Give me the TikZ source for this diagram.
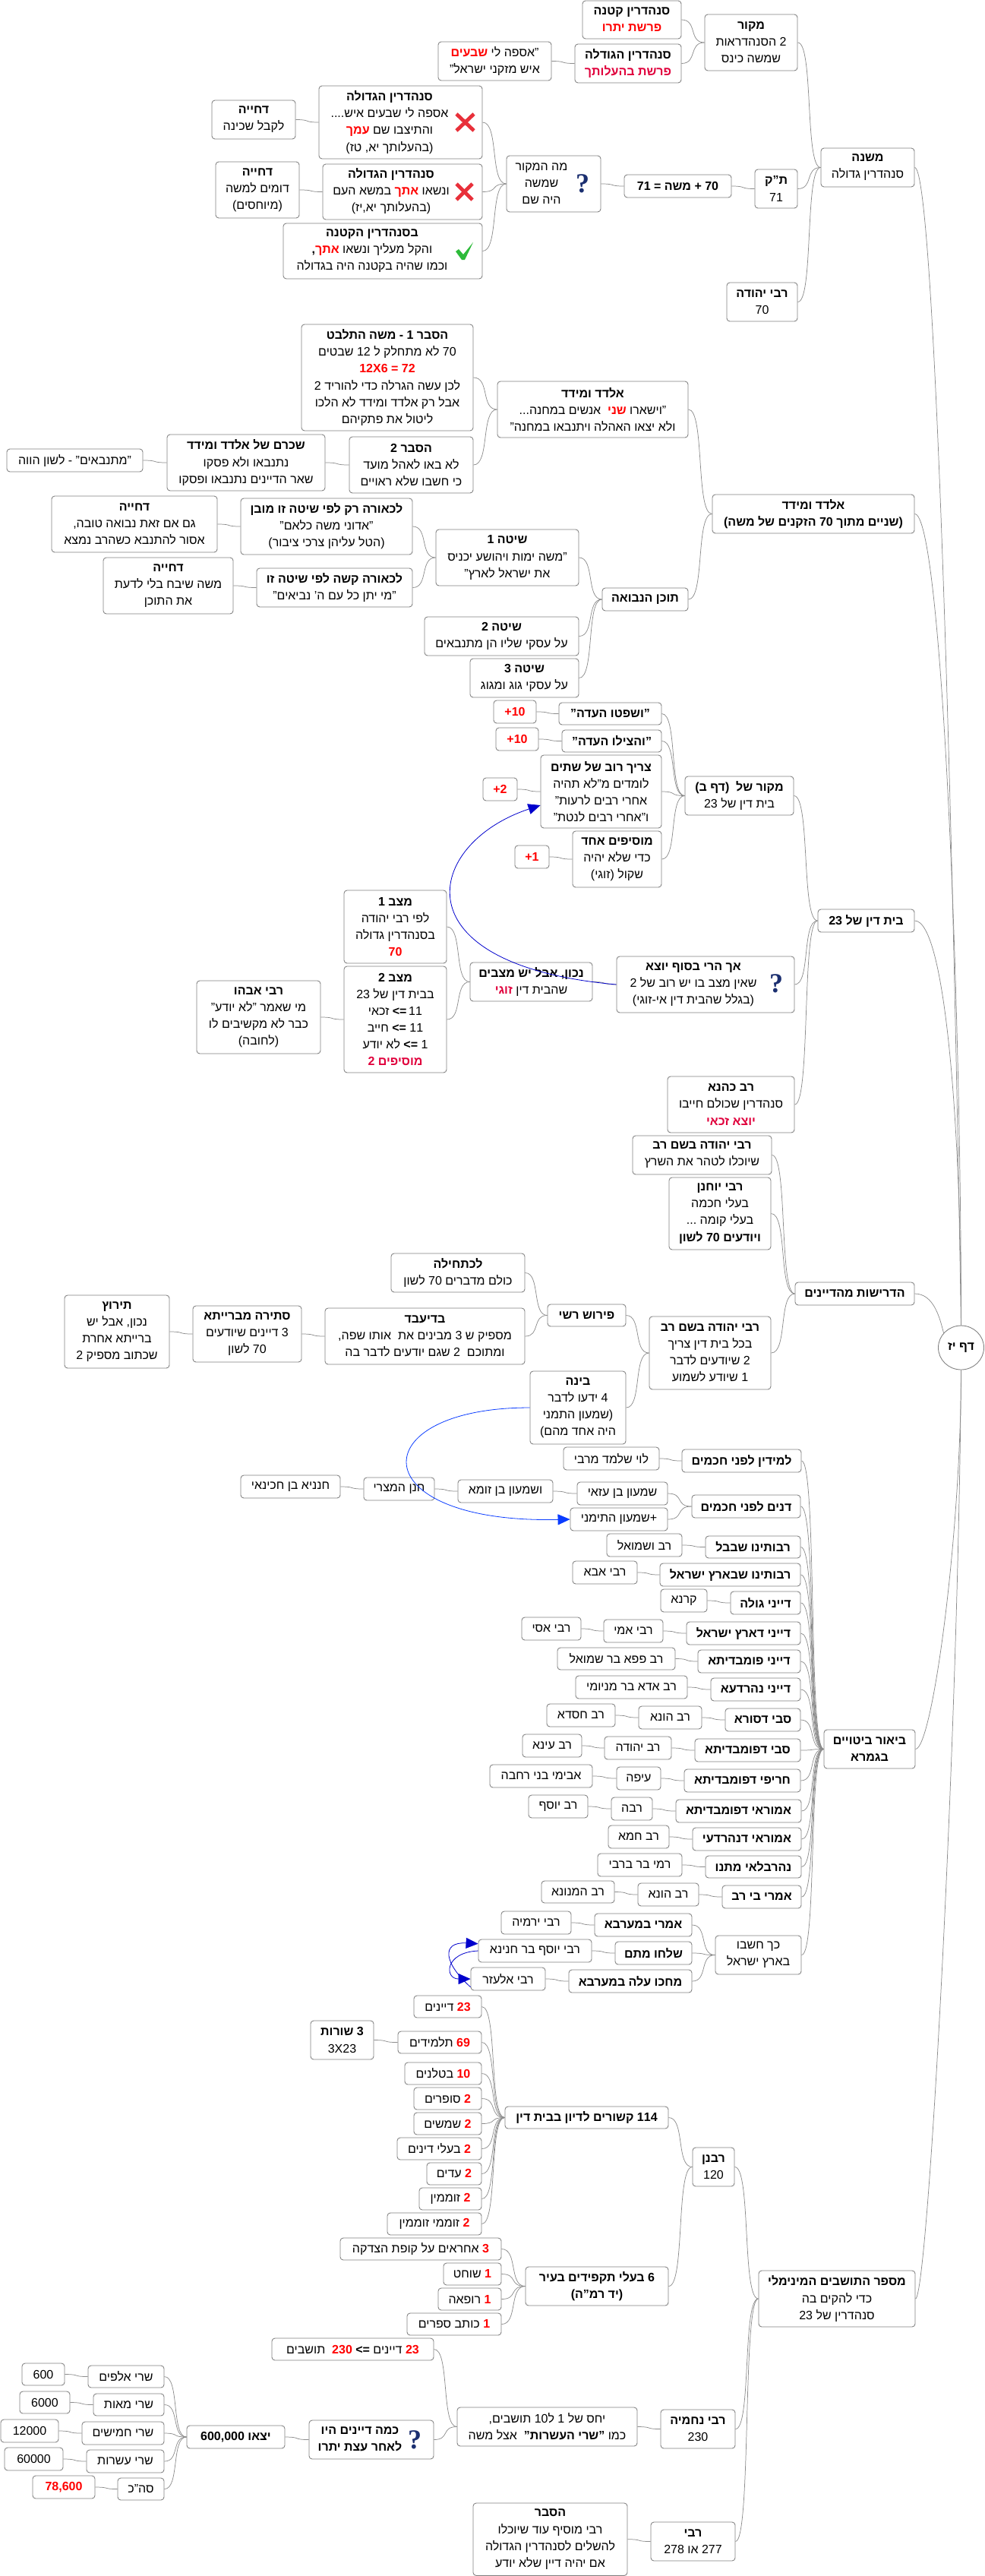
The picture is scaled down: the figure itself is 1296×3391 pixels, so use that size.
\documentclass[tikz,border=0pt]{standalone}
\usepackage{fontspec}
\setmainfont[Script=Hebrew]{Liberation Sans}
\newfontfamily\qfont{Liberation Serif}
\newfontfamily\latf{Liberation Sans}
\TeXXeTstate=1
\usetikzlibrary{calc,arrows.meta,shapes.geometric}
\definecolor{boxc}{HTML}{7F7F7F}
\definecolor{linec}{HTML}{8C8C8C}
\definecolor{crim}{HTML}{E0003C}
\definecolor{blueA}{HTML}{0000CC}
\definecolor{blueB}{HTML}{0A3CFF}
\definecolor{navyq}{HTML}{1B2F70}
\definecolor{xred}{HTML}{E8303A}
\definecolor{okgreen}{HTML}{2DBB3A}
\tikzset{
  bx/.style={draw=boxc,fill=white,rounded corners=3pt,line width=.65pt,inner sep=0pt,align=center,font=\fontsize{12}{16.6}\selectfont},
  tx/.style={inner sep=0pt,align=center,font=\fontsize{12}{16.6}\selectfont},
  cnl/.style={draw=linec,line width=.55pt},
  blA/.style={draw=blueA,line width=.6pt,-{Triangle[length=12pt,width=10.5pt,fill=blueA]}},
  blB/.style={draw=blueB,line width=.6pt,-{Triangle[length=12pt,width=10.5pt,fill=blueB]}},
  qm/.style={inner sep=0pt,text=navyq,font=\qfont\bfseries\fontsize{27}{27}\selectfont}
}
\newcommand\R[1]{\beginR #1\endR}
\newcommand\Bl[1]{\R{\textbf{#1}}}
\newcommand\RB[1]{\textcolor{red}{\beginR\textbf{#1}\endR}}
\newcommand\CB[1]{\textcolor{crim}{\beginR\textbf{#1}\endR}}
\newcommand\LB[1]{\textcolor{red}{\latf\textbf{#1}}}
\newcommand\bx[6]{\pgfmathsetmacro\bxw{(#4-#2)*.75}\pgfmathsetmacro\bxh{(#5-#3)*.75}\node[bx,minimum width=\bxw pt,minimum height=\bxh pt] (#1) at ({(#2+#4)/2},{(#3+#5)/2}) {#6};}
\newcommand\cn[2]{\draw[cnl] let \p1=(#1.east),\p2=(#2.west),\n1={(\x2-\x1)*.7} in (\p1) .. controls (\x1+\n1,\y1) and (\x2-\n1,\y2) .. (\p2);}
\newcommand\xmk[4]{\draw[xred,line width=3.6pt] (#1,#2) -- (#3,#4) (#3,#2) -- (#1,#4);}
\begin{document}
\begin{tikzpicture}[x=.75pt,y=-.75pt]
\useasboundingbox (0,0) rectangle (1296,3391);
% ---- mishna
\bx{sk}{767}{1}{897}{51}{\Bl{סנהדרין קטנה}\\\RB{פרשת יתרו}}
\bx{sg}{757}{58}{897}{109}{\Bl{סנהדרין הגודלה}\\\CB{פרשת בהעלותך}}
\bx{mk}{928}{19}{1050}{93}{\Bl{מקור}\\\R{2 הסנהדראות}\\\R{שמשה כינס}}
\bx{asf}{577}{55}{726}{106}{\RB{שבעים} \R{"אספה לי}\\\R{איש מזקני ישראל"}}
\bx{gA}{420}{113}{635}{209}{}
\node[tx] (gAt) at (513,161) {\Bl{סנהדרין הגדולה}\\\R{אספה לי שבעים איש....}\\\RB{עמך} \R{והתיצבו שם}\\\R{(בהעלותך יא, טז)}};
\bx{dA}{279}{132}{389}{183}{\Bl{דחייה}\\\R{לקבל שכינה}}
\bx{gB}{425}{216}{635}{289}{}
\node[tx] (gBt) at (515,252) {\Bl{סנהדרין הגדולה}\\\R{במשא העם} \RB{אתך} \R{ונשאו}\\\R{(בהעלותך יא,יז)}};
\bx{dB}{284}{213}{394}{287}{\Bl{דחייה}\\\R{דומים למשה}\\\R{(מיוחסים)}}
\bx{gC}{373}{294}{635}{367}{}
\node[tx] (gCt) at (490,330) {\Bl{בסנהדרין הקטנה}\\\textbf{,}\RB{אתך} \R{והקל מעליך ונשאו}\\\R{וכמו שהיה בקטנה היה בגדולה}};
\bx{qA}{667}{205}{791}{279}{}
\node[tx] (qAt) at (713,242) {\R{מה המקור}\\\R{שמשה}\\\R{היה שם}};
\bx{eq}{822}{230}{963}{260}{\Bl{70 + משה = 71}}
\bx{tk}{994}{223}{1050}{274}{\Bl{ת"ק}\\\R{71}}
\bx{mish}{1081}{195}{1204}{246}{\Bl{משנה}\\\R{סנהדרין גדולה}}
\bx{ry}{957}{372}{1050}{423}{\Bl{רבי יהודה}\\\R{70}}
% ---- eldad
\bx{hA}{397}{427}{623}{567}{\Bl{הסבר 1 - משה התלבט}\\\R{70 לא מתחלק ל 12 שבטים}\\\LB{12X6 = 72}\\\R{לכן עשה הגרלה כדי להוריד 2}\\\R{אבל רק אלדד ומידד לא הלכו}\\\R{ליטול את פתקיהם}}
\bx{ald}{655}{502}{906}{576}{\Bl{אלדד ומידד}\\\R{אנשים במחנה...}\ \ \RB{שני} \R{"וישארו}\\\R{ולא יצאו האהלה ויתנבאו במחנה"}}
\bx{hB}{460}{575}{623}{649}{\Bl{הסבר 2}\\\R{לא באו לאהל מועד}\\\R{כי חשבו שלא ראויים}}
\bx{shk}{220}{572}{428}{646}{\Bl{שכרם של אלדד ומידד}\\\R{נתנבאו ולא פסקו}\\\R{שאר הדיינים נתנבאו ופסקו}}
\bx{mit}{9}{591}{188}{621}{\R{"מתנבאים" - לשון הווה}}
\bx{aldm}{938}{651}{1204}{702}{\Bl{אלדד ומידד}\\\Bl{(שניים מתוך 70 הזקנים של משה)}}
\bx{lkA}{317}{656}{543}{730}{\Bl{לכאורה רק לפי שיטה זו מובן}\\\R{"אדוני משה כלאם"}\\\R{(הטל עליהן צרכי ציבור)}}
\bx{dC}{68}{653}{286}{727}{\Bl{דחייה}\\\R{גם אם זאת נבואה טובה,}\\\R{אסור להתנבא כשהרב נמצא}}
\bx{shA}{574}{697}{762}{771}{\Bl{שיטה 1}\\\R{"משה ימות ויהושע יכניס}\\\R{את ישראל לארץ"}}
\bx{dD}{136}{734}{307}{808}{\Bl{דחייה}\\\R{משה שיבח בלי לדעת}\\\R{את התוכן}}
\bx{lkB}{338}{748}{543}{799}{\Bl{לכאורה קשה לפי שיטה זו}\\\R{"מי יתן כל עם ה' נביאים"}}
\bx{tn}{793}{774}{906}{804}{\Bl{תוכן הנבואה}}
\bx{shB}{559}{812}{762}{863}{\Bl{שיטה 2}\\\R{על עסקי שליו הן מתנבאים}}
\bx{shC}{619}{867}{762}{918}{\Bl{שיטה 3}\\\R{על עסקי גוג ומגוג}}
% ---- 23
\bx{pA}{650}{922}{706}{952}{\LB{+10}}
\bx{vA}{736}{925}{871}{954}{\Bl{"ושפטו העדה"}}
\bx{pB}{653}{958}{709}{988}{\LB{+10}}
\bx{vB}{740}{961}{871}{990}{\Bl{"והצילו העדה"}}
\bx{rv}{712}{994}{871}{1090}{\Bl{צריך רוב של שתים}\\\R{לומדים מ"לא תהיה}\\\R{אחרי רבים לרעות"}\\\R{ו"אחרי רבים לנטת"}}
\bx{pC}{636}{1024}{681}{1054}{\LB{+2}}
\bx{mkB}{902}{1022}{1045}{1073}{\Bl{מקור של\ \ (דף ב)}\\\R{בית דין של 23}}
\bx{mos}{754}{1094}{871}{1168}{\Bl{מוסיפים אחד}\\\R{כדי שלא יהיה}\\\R{שקול (זוגי)}}
\bx{pD}{678}{1113}{723}{1143}{\LB{+1}}
\bx{bdt}{1077}{1197}{1204}{1227}{\Bl{בית דין של 23}}
\bx{mA}{453}{1172}{588}{1268}{\Bl{מצב 1}\\\R{לפי רבי יהודה}\\\R{בסנהדרין גדולה}\\\RB{70}}
\bx{nk}{619}{1267}{780}{1318}{\Bl{נכון, אבל יש מצבים}\\\CB{זוגי} \R{שהבית דין}}
\bx{ah}{812}{1259}{1046}{1333}{}
\node[tx] (aht) at (913,1296) {\Bl{אך הרי בסוף יוצא}\\\R{שאין מצב בו יש רוב של 2}\\\R{(בגלל שהבית דין אי-זוגי)}};
\bx{mB}{453}{1272}{588}{1412}{\Bl{מצב 2}\\\R{בבית דין של 23}\\\R{11\,\textbf{=>} זכאי}\\\R{11 \textbf{=>} חייב}\\\R{1 \textbf{=>} לא יודע}\\\CB{מוסיפים 2}}
\bx{abh}{259}{1291}{422}{1387}{\Bl{רבי אבהו}\\\R{מי שאמר "לא יודע"}\\\R{כבר לא מקשיבים לו}\\\R{(לחובה)}}
\bx{rk}{879}{1417}{1046}{1491}{\Bl{רב כהנא}\\\R{סנהדרין שכולם חייבו}\\\CB{יוצא זכאי}}
% ---- drishot
\bx{ryr}{833}{1495}{1016}{1546}{\Bl{רבי יהודה בשם רב}\\\R{שיוכלו לטהר את השרץ}}
\bx{ryo}{881}{1550}{1015}{1645}{\Bl{רבי יוחנן}\\\R{בעלי חכמה}\\\R{בעלי קומה ...}\\\Bl{ויודעים 70 לשון}}
\bx{lch}{515}{1650}{691}{1701}{\Bl{לכתחילה}\\\R{כולם מדברים 70 לשון}}
\bx{hd}{1047}{1688}{1204}{1718}{\Bl{הדרישות מהדיינים}}
\bx{pr}{721}{1717}{824}{1746}{\Bl{פירוש רשי}}
\bx{ti}{85}{1705}{223}{1801}{\Bl{תירוץ}\\\R{נכון, אבל יש}\\\R{ברייתא אחרת}\\\R{שכתוב מספיק 2}}
\bx{st}{254}{1719}{397}{1793}{\Bl{סתירה מברייתא}\\\R{3 דיינים שיודעים}\\\R{70 לשון}}
\bx{bd}{428}{1722}{691}{1796}{\Bl{בדיעבד}\\\R{מספיק ש 3 מבינים את\ \ אותו שפה,}\\\R{ומתוכם\ \ 2 שגם יודעים לדבר בה}}
\bx{ryb}{855}{1733}{1015}{1829}{\Bl{רבי יהודה בשם רב}\\\R{בכל בית דין צריך}\\\R{2 שיודעים לדבר}\\\R{1 שיודע לשמוע}}
\node[draw=boxc,fill=white,line width=.65pt,ellipse,inner sep=0pt,minimum width=45pt,minimum height=43.5pt,font=\fontsize{12}{16.6}\selectfont] (df) at (1265.5,1774) {\Bl{דף יז}};
\bx{bin}{698}{1805}{824}{1901}{\Bl{בינה}\\\R{4 ידעו לדבר}\\\R{(שמעון התמני}\\\R{היה אחד מהם)}}
% ---- biur
\bx{lv}{742}{1905}{868}{1935}{\R{לוי שלמד מרבי}}
\bx{lm}{898}{1908}{1055}{1938}{\Bl{למידין לפני חכמים}}
\bx{hn}{317}{1942}{448}{1972}{\R{חנניא בן חכינאי}}
\bx{hm}{479}{1945}{572}{1975}{\R{חנן המצרי}}
\bx{bz}{603}{1948}{728}{1978}{\R{ושמעון בן זומא}}
\bx{ba}{760}{1951}{879}{1981}{\R{שמעון בן עזאי}}
\bx{dn}{911}{1968}{1054}{1998}{\Bl{דנים לפני חכמים}}
\bx{tm}{751}{1985}{879}{2015}{\R{+שמעון התימני}}
\bx{rbA}{929}{2022}{1054}{2051}{\Bl{רבותינו שבבל}}
\bx{rs}{799}{2019}{898}{2049}{\R{רב ושמואל}}
\bx{ri}{869}{2058}{1054}{2088}{\Bl{רבותינו שבארץ ישראל}}
\bx{rab}{754}{2055}{839}{2085}{\R{רבי אבא}}
\bx{dg}{962}{2095}{1054}{2125}{\Bl{דייני גולה}}
\bx{kr}{870}{2092}{931}{2122}{\R{קרנא}}
\bx{dy}{904}{2135}{1054}{2165}{\Bl{דייני דארץ ישראל}}
\bx{am}{795}{2132}{873}{2162}{\R{רבי אמי}}
\bx{asi}{687}{2129}{765}{2159}{\R{רבי אסי}}
\bx{dp}{919}{2172}{1054}{2202}{\Bl{דייני פומבדיתא}}
\bx{rp}{734}{2169}{889}{2198}{\R{רב פפא בר שמואל}}
\bx{dnh}{936}{2209}{1054}{2239}{\Bl{דייני נהרדעא}}
\bx{rad}{758}{2206}{905}{2236}{\R{רב אדא בר מניומי}}
\bx{sd}{955}{2249}{1054}{2279}{\Bl{סבי דסורא}}
\bx{rh}{841}{2246}{924}{2276}{\R{רב הונא}}
\bx{rhs}{720}{2243}{810}{2273}{\R{רב חסדא}}
\bx{sb}{915}{2289}{1054}{2319}{\Bl{סבי דפומבדיתא}}
\bx{ryh}{796}{2286}{884}{2316}{\R{רב יהודה}}
\bx{rin}{688}{2283}{766}{2313}{\R{רב עינא}}
\bx{hr}{901}{2329}{1054}{2359}{\Bl{חריפי דפומבדיתא}}
\bx{ef}{812}{2326}{870}{2356}{\R{עיפה}}
\bx{abm}{645}{2323}{780}{2353}{\R{אבימי בני רחבה}}
\bx{biu}{1085}{2277}{1205}{2328}{\Bl{ביאור ביטויים}\\\Bl{בגמרא}}
\bx{amp}{890}{2369}{1055}{2399}{\Bl{אמוראי דפומבדיתא}}
\bx{rbh}{805}{2366}{859}{2396}{\R{רבה}}
\bx{ryf}{696}{2363}{774}{2393}{\R{רב יוסף}}
\bx{anh}{912}{2406}{1055}{2436}{\Bl{אמוראי דנהרדעי}}
\bx{rhm}{801}{2403}{881}{2433}{\R{רב חמא}}
\bx{nh}{929}{2443}{1055}{2472}{\Bl{נהרבלאי מתנו}}
\bx{rm}{787}{2440}{898}{2470}{\R{רמי בר ברבי}}
\bx{abr}{951}{2482}{1055}{2512}{\Bl{אמרי בי רב}}
\bx{rhB}{840}{2479}{920}{2509}{\R{רב הונא}}
\bx{rmn}{713}{2476}{809}{2505}{\R{רב המנונא}}
\bx{abm2}{783}{2519}{911}{2549}{\Bl{אמרי במערבא}}
\bx{ryr3}{660}{2516}{752}{2546}{\R{רבי ירמיה}}
\bx{kh}{942}{2548}{1055}{2599}{\R{כך חשבו}\\\R{בארץ ישראל}}
\bx{sm}{810}{2556}{911}{2586}{\Bl{שלחו מתם}}
\bx{ybh}{630}{2553}{779}{2583}{\R{רבי יוסף בר חנינא}}
\bx{mh}{749}{2593}{911}{2623}{\Bl{מחכו עלה במערבא}}
\bx{re}{620}{2590}{718}{2620}{\R{רבי אלעזר}}
% ---- minimal
\bx{da}{545}{2627}{634}{2656}{\R{דיינים} \RB{23}}
\bx{db}{524}{2674}{634}{2703}{\R{תלמידים} \RB{69}}
\bx{sr}{409}{2660}{492}{2711}{\Bl{3 שורות}\\{\latf 3X23}}
\bx{dc}{533}{2715}{634}{2744}{\R{בטלנים} \RB{10}}
\bx{dd}{545}{2748}{634}{2777}{\R{סופרים} \RB{2}}
\bx{de}{545}{2781}{634}{2810}{\R{שמשים} \RB{2}}
\bx{df2}{523}{2814}{634}{2843}{\R{בעלי דינים} \RB{2}}
\bx{dg2}{562}{2847}{634}{2876}{\R{עדים} \RB{2}}
\bx{dh}{552}{2880}{634}{2909}{\R{זוממין} \RB{2}}
\bx{di}{510}{2913}{634}{2942}{\R{זוממי זוממין} \RB{2}}
\bx{qt}{665}{2773}{880}{2802}{\Bl{114 קשורים לדיון בבית דין}}
\bx{rbn}{912}{2827}{967}{2878}{\Bl{רבנן}\\\R{120}}
\bx{ea}{448}{2946}{660}{2975}{\R{אחראים על קופת הצדקה} \RB{3}}
\bx{eb}{584}{2979}{660}{3008}{\R{שוחט} \RB{1}}
\bx{ec}{577}{3012}{660}{3041}{\R{רופאה} \RB{1}}
\bx{ed}{536}{3045}{660}{3074}{\R{כותב ספרים} \RB{1}}
\bx{bsix}{692}{2984}{880}{3035}{\Bl{6 בעלי תקפידים בעיר}\\\Bl{(יד רמ"ה)}}
\bx{mm}{999}{2989}{1205}{3063}{\Bl{מספר התושבים המינימלי}\\\R{כדי להקים בה}\\\R{סנהדרין של 23}}
\bx{dtt}{358}{3078}{571}{3107}{\R{תושבים}\ \ \RB{230} \Bl{=>} \R{דיינים} \RB{23}}
\bx{yh}{602}{3169}{839}{3220}{\R{יחס של 1 ל10 תושבים,}\\\R{כמו \textbf{"שרי העשרות"}\ \ אצל משה}}
\bx{rn}{870}{3172}{968}{3223}{\Bl{רבי נחמיה}\\\R{230}}
\bx{km}{407}{3186}{571}{3237}{}
\node[tx] (kmt) at (474,3211) {\Bl{כמה דיינים היו}\\\Bl{לאחר עצת יתרו}};
\bx{hsb}{623}{3295}{826}{3390.4}{\Bl{הסבר}\\\R{רבי מוסיף עוד שיוכלו}\\\R{להשלים לסנהדרין הגדולה}\\\R{אם יהיה דיין שלא יודע}}
\bx{rbi}{857}{3320}{968}{3371}{\Bl{רבי}\\\R{277 או 278}}
\bx{ya}{246}{3193}{375}{3223}{\Bl{יצאו 600,000}}
\bx{sa}{116}{3114}{216}{3143}{\R{שרי אלפים}}
\bx{na}{29}{3111}{85}{3140}{600}
\bx{sbb}{123}{3151}{216}{3180}{\R{שרי מאות}}
\bx{nb}{26}{3148}{92}{3177}{6000}
\bx{sc}{108}{3188}{216}{3218}{\R{שרי חמישים}}
\bx{nc}{1}{3185}{77}{3215}{12000}
\bx{sdd}{114}{3225}{216}{3255}{\R{שרי עשרות}}
\bx{nd}{6}{3222}{83}{3252}{60000}
\bx{se}{155}{3262}{216}{3291}{\R{סה"כ}}
\bx{ne}{43}{3259}{125}{3289}{\RB{78,600}}
% ---- icons
\xmk{601}{150}{624}{172}
\xmk{601}{242}{622}{263}
\fill[okgreen] (600,331) -- (604,328) -- (610,335) -- (623,319) -- (612,342) -- (608,342) -- cycle;
\node[qm] (qiA) at (767,242) {?};
\node[qm] (qiB) at (1022,1295) {?};
\node[qm] (qiC) at (546,3212) {?};
% ---- connectors
\cn{sk}{mk}\cn{sg}{mk}\cn{asf}{sg}\cn{mk}{mish}\cn{tk}{mish}\cn{ry}{mish}\cn{eq}{tk}\cn{qA}{eq}
\cn{gA}{qA}\cn{gB}{qA}\cn{gC}{qA}\cn{dA}{gA}\cn{dB}{gB}
\cn{hA}{ald}\cn{hB}{ald}\cn{shk}{hB}\cn{mit}{shk}\cn{ald}{aldm}\cn{tn}{aldm}
\cn{shA}{tn}\cn{shB}{tn}\cn{shC}{tn}\cn{lkA}{shA}\cn{lkB}{shA}\cn{dC}{lkA}\cn{dD}{lkB}
\cn{pA}{vA}\cn{pB}{vB}\cn{pC}{rv}\cn{pD}{mos}\cn{vA}{mkB}\cn{vB}{mkB}\cn{rv}{mkB}\cn{mos}{mkB}
\cn{mkB}{bdt}\cn{ah}{bdt}\cn{rk}{bdt}\cn{nk}{ah}\cn{mA}{nk}\cn{mB}{nk}\cn{abh}{mB}
\cn{ryr}{hd}\cn{ryo}{hd}\cn{ryb}{hd}\cn{pr}{ryb}\cn{bin}{ryb}\cn{lch}{pr}\cn{bd}{pr}\cn{st}{bd}\cn{ti}{st}
\cn{lv}{lm}\cn{ba}{dn}\cn{tm}{dn}\cn{bz}{ba}\cn{hm}{bz}\cn{hn}{hm}\cn{rs}{rbA}\cn{rab}{ri}\cn{kr}{dg}
\cn{am}{dy}\cn{asi}{am}\cn{rp}{dp}\cn{rad}{dnh}\cn{rh}{sd}\cn{rhs}{rh}\cn{ryh}{sb}\cn{rin}{ryh}\cn{ef}{hr}\cn{abm}{ef}
\cn{rbh}{amp}\cn{ryf}{rbh}\cn{rhm}{anh}\cn{rm}{nh}\cn{rhB}{abr}\cn{rmn}{rhB}\cn{abm2}{kh}\cn{sm}{kh}\cn{mh}{kh}
\cn{ryr3}{abm2}\cn{ybh}{sm}\cn{re}{mh}
\cn{lm}{biu}\cn{dn}{biu}\cn{rbA}{biu}\cn{ri}{biu}\cn{dg}{biu}\cn{dy}{biu}\cn{dp}{biu}\cn{dnh}{biu}
\cn{sd}{biu}\cn{sb}{biu}\cn{hr}{biu}\cn{amp}{biu}\cn{anh}{biu}\cn{nh}{biu}\cn{abr}{biu}\cn{kh}{biu}
\cn{da}{qt}\cn{db}{qt}\cn{dc}{qt}\cn{dd}{qt}\cn{de}{qt}\cn{df2}{qt}\cn{dg2}{qt}\cn{dh}{qt}\cn{di}{qt}\cn{sr}{db}
\cn{qt}{rbn}\cn{bsix}{rbn}\cn{ea}{bsix}\cn{eb}{bsix}\cn{ec}{bsix}\cn{ed}{bsix}
\cn{rbn}{mm}\cn{rn}{mm}\cn{rbi}{mm}\cn{yh}{rn}\cn{dtt}{yh}\cn{km}{yh}\cn{ya}{km}
\cn{sa}{ya}\cn{sbb}{ya}\cn{sc}{ya}\cn{sdd}{ya}\cn{se}{ya}\cn{na}{sa}\cn{nb}{sbb}\cn{nc}{sc}\cn{nd}{sdd}\cn{ne}{se}
\cn{hsb}{rbi}
% ---- to root
\draw[cnl] (mish.east) .. controls +(25,0) and +(-12,-750) .. (df.north);
\draw[cnl] (aldm.east) .. controls +(35,0) and +(0,-445) .. (df.north);
\draw[cnl] (bdt.east) .. controls +(40,0) and +(0,-260) .. (df.north);
\draw[cnl] (hd.east) .. controls +(25,0) and +(-5,-20) .. (df.140);
\draw[cnl] (biu.east) .. controls +(22,0) and +(0,220) .. (df.south);
\draw[cnl] (mm.east) .. controls +(16,0) and +(-4,500) .. (df.south);
% ---- blue arrows
\draw[blA] (ah.west) .. controls (520,1270) and (560,1110) .. ([yshift=-13.5pt]rv.west);
\draw[blB] (bin.west) .. controls (475,1853) and (475,2006) .. (tm.west);
\draw[blA] (ybh.west) .. controls (585,2570) and (585,2605) .. (re.west);
\draw[blA] ([yshift=-8pt]re.west) .. controls (585,2585) and (580,2556) .. ([yshift=7pt]ybh.west);
\end{tikzpicture}
\end{document}
